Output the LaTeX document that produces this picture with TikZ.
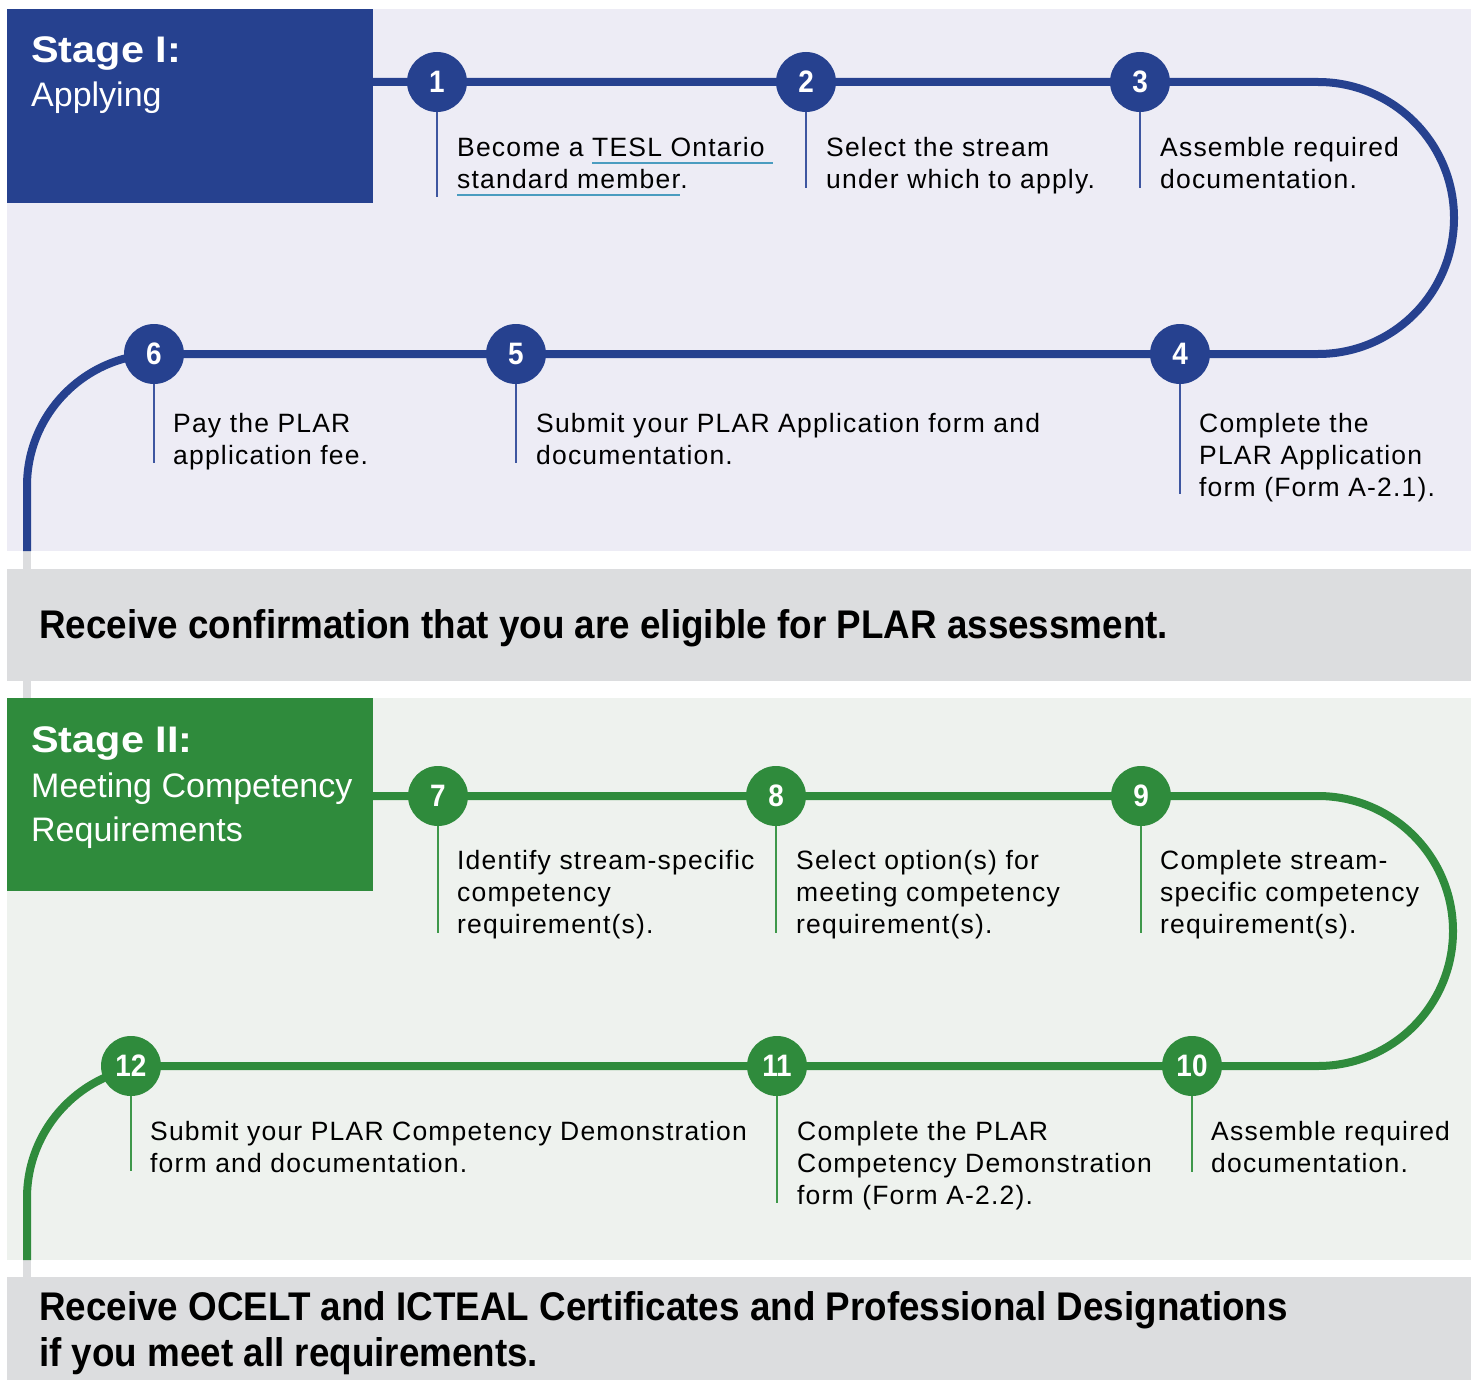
\documentclass[tikz,border=0pt]{standalone}
\usepackage{fontspec}
\setmainfont{Liberation Sans}
\newfontfamily\bodyfont[LetterSpace=4.5]{Liberation Sans}
\newfontfamily\numfont[FakeStretch=0.9]{Liberation Sans}
\newfontfamily\hdfont[FakeStretch=0.92]{Liberation Sans}
\newfontfamily\stagefont[FakeStretch=1.12]{Liberation Sans}
\newfontfamily\subfont{Liberation Sans}
\definecolor{pblue}{RGB}{38,65,143}
\definecolor{ptick}{RGB}{62,86,160}
\definecolor{plav}{RGB}{237,236,245}
\definecolor{pgray}{RGB}{220,221,223}
\definecolor{pgreen}{RGB}{47,139,60}
\definecolor{pgtick}{RGB}{62,152,74}
\definecolor{pgbg}{RGB}{238,242,238}
\definecolor{ulc}{RGB}{74,156,192}
\newcommand\linkul[1]{{\setbox0=\hbox{#1}\rlap{\textcolor{ulc}{\rule[-7pt]{\wd0}{1.8pt}}}\box0}}
\tikzset{
  numcirc/.style={circle, minimum size=60pt, inner sep=0pt, text=white,
    font=\numfont\bfseries\fontsize{31}{31}\selectfont},
  bluecirc/.style={numcirc, fill=pblue},
  greencirc/.style={numcirc, fill=pgreen},
  bluepath/.style={draw=pblue, line width=8pt},
  greenpath/.style={draw=pgreen, line width=8pt},
  bluetick/.style={draw=ptick, line width=2pt},
  greentick/.style={draw=pgtick, line width=2pt},
  steptext/.style={anchor=base west, inner sep=0pt, text=black,
    font=\bodyfont\fontsize{26.5}{32}\selectfont},
  headtext/.style={anchor=base west, inner sep=0pt, text=black,
    font=\hdfont\bfseries\fontsize{40}{46}\selectfont},
  stagetitle/.style={anchor=base west, inner sep=0pt, text=white,
    font=\stagefont\bfseries\fontsize{37}{37}\selectfont},
  stagesub/.style={anchor=base west, inner sep=0pt, text=white,
    font=\subfont\fontsize{34}{44}\selectfont},
}
\begin{document}
\begin{tikzpicture}[x=1pt,y=-1pt]
\useasboundingbox (0,0) rectangle (1477,1380);
\fill[white] (0,0) rectangle (1477,1380);
% bands
\fill[plav] (7,9) rectangle (1471,551);
\fill[pgray] (7,569) rectangle (1471,681);
\fill[pgbg] (7,698) rectangle (1471,1260);
\fill[pgray] (7,1277) rectangle (1471,1380);
% gray joins
\draw[pgray, line width=8pt] (27,545) -- (27,704);
\draw[pgray, line width=8pt] (27,1255) -- (27,1282);
% stage boxes
\fill[pblue] (7,9) rectangle (373,203);
\fill[pgreen] (7,698) rectangle (373,891);
\node[stagetitle] (s1t) at (31,63) {Stage I:};
\node[stagesub] (s1s) at (31,107) {Applying};
\node[stagetitle] (s2t) at (31,752) {Stage II:};
\node[stagesub] (s2s) at (31,797) {\parbox[t]{340pt}{Meeting Competency\\Requirements}};
% circle centres
\coordinate (p0) at (373,82);
\coordinate (p1) at (437,82);
\coordinate (p2) at (806,82);
\coordinate (p3) at (1140,82);
\coordinate (a1) at (1318,82);
\coordinate (p4) at (1180,354);
\coordinate (p5) at (516,354);
\coordinate (p6) at (154,354);
\coordinate (b1) at (159,354);
\coordinate (e1) at (27,551);
\coordinate (q0) at (373,796);
\coordinate (p7) at (438,796);
\coordinate (p8) at (776,796);
\coordinate (p9) at (1141,796);
\coordinate (a2) at (1318,796);
\coordinate (p10) at (1192,1066);
\coordinate (p11) at (777,1066);
\coordinate (p12) at (131,1066);
\coordinate (b2) at (159,1066);
\coordinate (e2) at (27,1260);
% paths
\draw[bluepath] (p0) -- (p1) -- (p2) -- (p3) -- (a1) arc(90:-90:136pt) -- (p4) -- (p5) -- (p6) -- (b1) arc(90:180:132pt) -- (e1);
\draw[greenpath] (q0) -- (p7) -- (p8) -- (p9) -- (a2) arc(90:-90:135pt) -- (p10) -- (p11) -- (p12) -- (b2) arc(90:180:132pt) -- (e2);
% ticks
\draw[bluetick] (p1) -- (p1 |- 0,197);
\draw[bluetick] (p2) -- (p2 |- 0,188);
\draw[bluetick] (p3) -- (p3 |- 0,188);
\draw[bluetick] (p4) -- (p4 |- 0,494);
\draw[bluetick] (p5) -- (p5 |- 0,463);
\draw[bluetick] (p6) -- (p6 |- 0,463);
\draw[greentick] (p7) -- (p7 |- 0,933);
\draw[greentick] (p8) -- (p8 |- 0,933);
\draw[greentick] (p9) -- (p9 |- 0,933);
\draw[greentick] (p10) -- (p10 |- 0,1172);
\draw[greentick] (p11) -- (p11 |- 0,1203);
\draw[greentick] (p12) -- (p12 |- 0,1171);
% circles
\node[bluecirc] (c1) at (p1) {1};
\node[bluecirc] (c2) at (p2) {2};
\node[bluecirc] (c3) at (p3) {3};
\node[bluecirc] (c4) at (p4) {4};
\node[bluecirc] (c5) at (p5) {5};
\node[bluecirc] (c6) at (p6) {6};
\node[greencirc] (c7) at (p7) {7};
\node[greencirc] (c8) at (p8) {8};
\node[greencirc] (c9) at (p9) {9};
\node[greencirc] (c10) at (p10) {10};
\node[greencirc] (c11) at (p11) {11};
\node[greencirc] (c12) at (p12) {12};
% step texts
\node[steptext] (t1) at (457,157) {\parbox[t]{400pt}{Become a \linkul{TESL Ontario }\\\linkul{standard member}.}};
\node[steptext] (t2) at (826,157) {\parbox[t]{400pt}{Select the stream\\under which to apply.}};
\node[steptext] (t3) at (1160,157) {\parbox[t]{400pt}{Assemble required\\documentation.}};
\node[steptext] (t4) at (1199,432) {\parbox[t]{400pt}{Complete the\\PLAR Application\\form (Form A-2.1).}};
\node[steptext] (t5) at (536,432) {\parbox[t]{600pt}{Submit your PLAR Application form and\\documentation.}};
\node[steptext] (t6) at (173,432) {\parbox[t]{400pt}{Pay the PLAR\\application fee.}};
\node[steptext] (t7) at (457,869) {\parbox[t]{400pt}{Identify stream-specific\\competency\\requirement(s).}};
\node[steptext] (t8) at (796,869) {\parbox[t]{400pt}{Select option(s) for\\meeting competency\\requirement(s).}};
\node[steptext] (t9) at (1160,869) {\parbox[t]{400pt}{Complete stream-\\specific competency\\requirement(s).}};
\node[steptext] (t10) at (1211,1140) {\parbox[t]{400pt}{Assemble required\\documentation.}};
\node[steptext] (t11) at (797,1140) {\parbox[t]{400pt}{Complete the PLAR\\Competency Demonstration\\form (Form A-2.2).}};
\node[steptext] (t12) at (150,1140) {\parbox[t]{700pt}{Submit your PLAR Competency Demonstration\\form and documentation.}};
% headings
\node[headtext] (h1) at (39,638) {Receive confirmation that you are eligible for PLAR assessment.};
\node[headtext] (h2) at (39,1320) {\parbox[t]{1420pt}{Receive OCELT and ICTEAL Certificates and Professional Designations\\if you meet all requirements.}};
\end{tikzpicture}
\end{document}
